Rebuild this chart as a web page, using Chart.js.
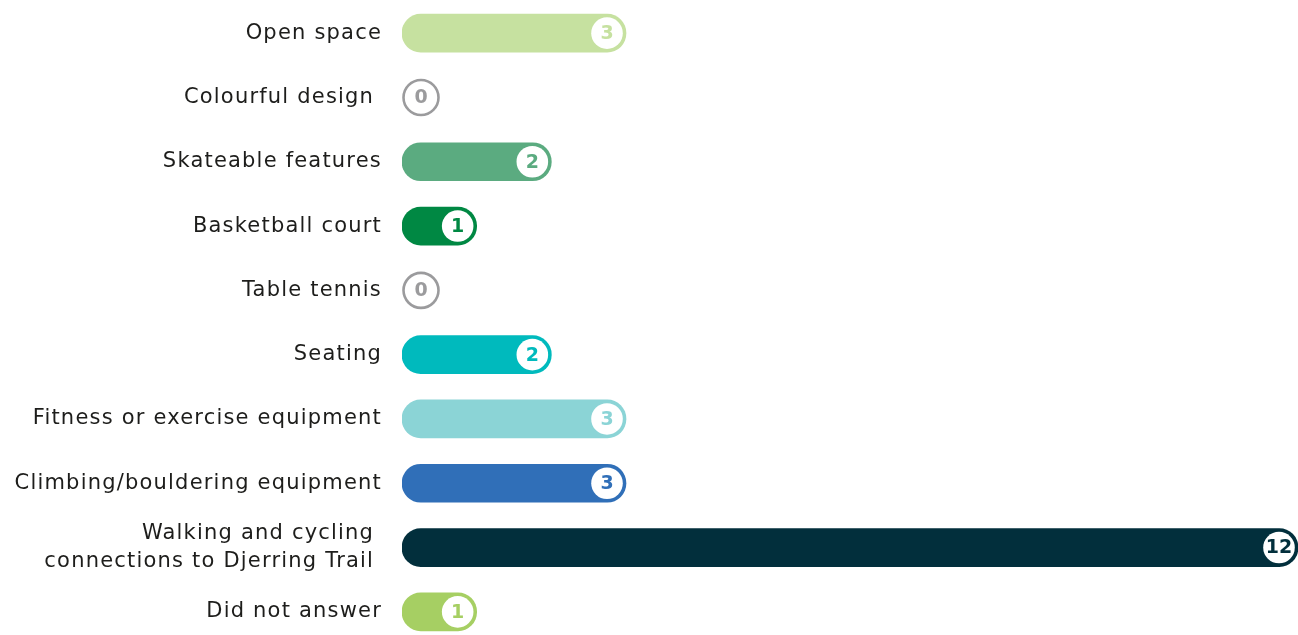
<!DOCTYPE html>
<html>
<head>
<meta charset="utf-8">
<title>Preferred features</title>
<script src="https://cdn.jsdelivr.net/npm/chart.js@4/dist/chart.umd.min.js"></script>
<style>
  html, body { margin: 0; padding: 0; background: #fff; overflow: hidden; }
  #wrap { position: relative; width: 1298px; height: 635px; overflow: hidden; }
  canvas { display: block; }
</style>
</head>
<body>
<div id="wrap">
  <canvas id="featureChart" width="1298" height="644"></canvas>
</div>
<script>
// ===== Data =====
const categories = [
  "Open space",
  "Colourful design ",
  "Skateable features",
  "Basketball court",
  "Table tennis",
  "Seating",
  "Fitness or exercise equipment",
  "Climbing/bouldering equipment",
  ["Walking and cycling ", "connections to Djerring Trail "],
  "Did not answer"
];
const responses = [3, 0, 2, 1, 0, 2, 3, 3, 12, 1];
const barColours = [
  "#c6e1a0", "#9b9b9d", "#5bab80", "#008843", "#9b9b9d",
  "#00babd", "#8bd4d6", "#306fb8", "#022f3c", "#a6cf63"
];

const BAR_H = 38;
const fontFamily = "'DejaVu Sans', sans-serif";

// ===== Badge plugin: circle with the value at the end of each bar =====
const badgePlugin = {
  id: "badges",
  beforeDraw(chart) {
    chart.ctx.letterSpacing = "1.2px";
  },
  afterDatasetsDraw(chart) {
    const ctx = chart.ctx;
    const meta = chart.getDatasetMeta(0);
    const r = BAR_H / 2;
    ctx.save();
    ctx.letterSpacing = "0px";
    ctx.font = "bold 19px " + fontFamily;
    ctx.textAlign = "center";
    ctx.textBaseline = "middle";
    meta.data.forEach((bar, i) => {
      const v = responses[i];
      const col = barColours[i];
      let cx;
      ctx.beginPath();
      if (v === 0) {
        cx = bar.base + r;
        ctx.arc(cx, bar.y, r - 1.5, 0, Math.PI * 2);
        ctx.fillStyle = "#ffffff";
        ctx.fill();
        ctx.lineWidth = 2.6;
        ctx.strokeStyle = col;
        ctx.stroke();
      } else {
        cx = bar.x - r;
        ctx.arc(cx, bar.y, r - 3.2, 0, Math.PI * 2);
        ctx.fillStyle = "#ffffff";
        ctx.fill();
      }
      ctx.fillStyle = col;
      ctx.fillText(String(v), cx, bar.y + 1);
    });
    ctx.restore();
  }
};

// ===== Chart =====
const ctx = document.getElementById("featureChart").getContext("2d");
new Chart(ctx, {
  type: "bar",
  data: {
    labels: categories,
    datasets: [{
      data: responses,
      backgroundColor: (c) => responses[c.dataIndex] === 0 ? "rgba(0,0,0,0)" : barColours[c.dataIndex],
      borderRadius: BAR_H / 2,
      borderSkipped: false,
      barThickness: BAR_H
    }]
  },
  options: {
    indexAxis: "y",
    responsive: false,
    animation: false,
    layout: { padding: { top: 1, right: 0, bottom: 0, left: 0 } },
    plugins: {
      legend: { display: false },
      tooltip: { enabled: false }
    },
    scales: {
      x: {
        display: false,
        min: 0,
        max: 12
      },
      y: {
        afterFit(scale) {
          scale.width = 402;
          scale.paddingTop = 0;
          scale.paddingBottom = 0;
        },
        border: { display: false },
        grid: { display: false, drawTicks: false },
        ticks: {
          padding: 20,
          color: "#1d1d1b",
          font: { family: fontFamily, size: 21, lineHeight: 1.3 }
        }
      }
    }
  },
  plugins: [badgePlugin]
});
</script>
</body>
</html>
